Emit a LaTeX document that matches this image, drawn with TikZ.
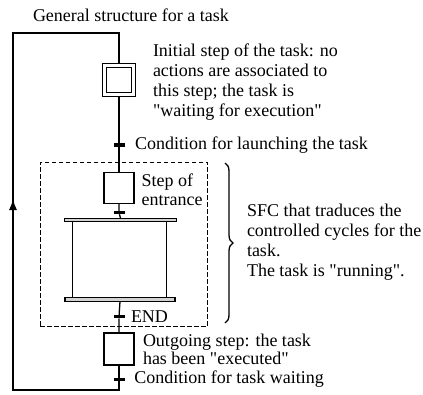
\documentclass[tikz,border=0pt]{standalone}
\usepackage{fontspec}
\setmainfont{Liberation Serif}[Ligatures=TeXOff]
\usetikzlibrary{arrows.meta,decorations.pathreplacing}
\begin{document}
\begin{tikzpicture}[x=1pt,y=-1pt,
  every node/.style={inner sep=0pt, outer sep=0pt},
  lbl/.style={anchor=west, font=\fontsize{18}{20}\selectfont, align=left},
  stepbox/.style={draw, line width=1.2pt, minimum width=30pt, minimum height=31pt},
  trans/.style={fill=black, minimum width=11pt, minimum height=3.5pt},
  sbar/.style={draw, line width=1.1pt, fill=gray!35, minimum height=3.5pt},
  wire/.style={line width=1.3pt},
  frame/.style={draw, line width=0.9pt, dash pattern=on 4.5pt off 2.5pt}]
\useasboundingbox (0,0) rectangle (423,394);
% frame
\node[frame, minimum width=167.5pt, minimum height=164pt] (fr) at (123.75,244) {};
% steps
\node[draw, line width=1.1pt, minimum width=32.5pt, minimum height=32.5pt] (s0) at (119,80) {};
\node[draw, line width=1.1pt, minimum width=25pt, minimum height=25pt] (s0i) at (119,80) {};
\node[trans] (t1) at (119,145) {};
\node[stepbox] (s1) at (119,188) {};
\node[trans] (t2) at (119,212.5) {};
\node[sbar, minimum width=112pt] (b1) at (120.5,220) {};
\node[sbar, minimum width=110pt] (b2) at (120,299.5) {};
\node[trans] (t3) at (119,316.5) {};
\node[stepbox, minimum height=32pt] (s2) at (119,349) {};
\node[trans] (t4) at (119,379.5) {};
% coordinates
\coordinate (bb) at (119,390);
\coordinate (bl) at (13,390);
\coordinate (ar) at (13,199);
\coordinate (tl) at (13,33);
\coordinate (tr) at (119,33);
\coordinate (v1t) at (72.5,220);
\coordinate (v1b) at (72.5,299.5);
\coordinate (v2t) at (166.5,220);
\coordinate (v2b) at (166.5,299.5);
% wires
\draw[wire] (s0.south) -- (t1) -- (s1.north);
\draw[wire] (s1.south) -- (t2) -- (b1.north);
\draw[wire] (b2.south) -- (t3) -- (s2.north);
\draw[wire] (s2.south) -- (t4) -- (bb) -- (bl) -- (ar);
\draw[wire, -{Latex[length=11pt,width=8pt]}] (bl) -- (ar);
\draw[wire] (ar) -- (tl) -- (tr) -- (s0.north);
\draw[line width=1.8pt] (v1t) -- (v1b) (v2t) -- (v2b);
\node[sbar, minimum width=112pt] at (b1) {};
\node[sbar, minimum width=110pt] at (b2) {};
% brace
\coordinate (bt) at (225,163);
\coordinate (bbot) at (225,323);
\draw[line width=1.3pt, decorate, decoration={brace, amplitude=8pt}] (bt) -- (bbot);
% texts
\node[lbl] (title) at (33,15) {General structure for a task};
\node[lbl] (l0) at (153,82.5) {Initial step of the task: no\\actions are associated to\\this step; the task is\\"waiting for execution"};
\node[lbl] (l1) at (135,145) {Condition for launching the task};
\node[lbl, font=\fontsize{18}{18.6}\selectfont] (l2) at (141.7,190) {Step of\\entrance};
\node[lbl] (l3) at (247,242.5) {SFC that traduces the\\controlled cycles for the\\task.\\The task is "running".};
\node[lbl] (l4) at (131,316.5) {END};
\node[lbl, font=\fontsize{18}{18}\selectfont] (l5) at (143,349.5) {Outgoing step: the task\\has been "executed"};
\node[lbl] (l6) at (134.3,379.5) {Condition for task waiting};
\end{tikzpicture}
\end{document}
